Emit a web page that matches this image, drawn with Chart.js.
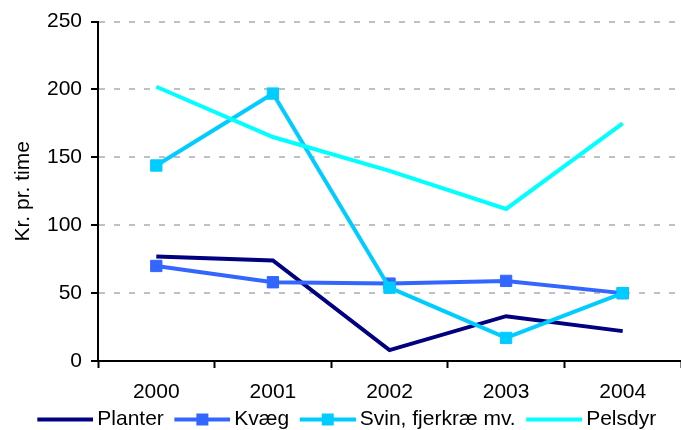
<!DOCTYPE html>
<html>
<head>
<meta charset="utf-8">
<script src="https://cdn.jsdelivr.net/npm/chart.js@4/dist/chart.umd.min.js"></script>
<style>
    html, body { margin: 0; padding: 0; background: #fff; overflow: hidden; }
    #wrap { width: 690px; height: 430px; }
</style>
</head>
<body>
<div id="wrap"><canvas id="chart" width="690" height="430"></canvas></div>
<script>
// data
const years = ["2000", "2001", "2002", "2003", "2004"];
const planter = [77, 74, 8, 33, 22];
const kvaeg = [70, 58, 57, 59, 50];
const svin = [144, 197, 54, 17, 50];
const pelsdyr = [202, 165, 140, 112, 175];
const seriesNames = ["Planter", "Kvæg", "Svin, fjerkræ mv.", "Pelsdyr"];
const seriesColors = ["#000080", "#3366ff", "#00ccff", "#00ffff"];
const seriesMarkers = [false, true, true, false];

const fontFamily = "'Liberation Sans', Arial, sans-serif";
Chart.defaults.font.family = fontFamily;
Chart.defaults.font.size = 21;
Chart.defaults.color = "#000";

// legend picture: line with optional square marker (transparent margin on the left)
function legendImage(color, marker) {
    const c = document.createElement("canvas");
    c.width = 70;
    c.height = 14;
    const ctx = c.getContext("2d");
    ctx.strokeStyle = color;
    ctx.lineWidth = 4;
    ctx.beginPath();
    ctx.moveTo(14, 7);
    ctx.lineTo(70, 7);
    ctx.stroke();
    if (marker) {
        ctx.fillStyle = color;
        ctx.fillRect(36, 1, 12, 12);
    }
    return c;
}

const allData = [planter, kvaeg, svin, pelsdyr];
const datasets = allData.map((d, i) => ({
    label: seriesNames[i],
    data: d,
    borderColor: seriesColors[i],
    backgroundColor: seriesColors[i],
    borderWidth: 4,
    tension: 0,
    pointStyle: "rect",
    pointRadius: seriesMarkers[i] ? 8 : 0,
    pointBorderWidth: 1,
    order: 4 - i,
}));

const legendImgs = seriesColors.map((c, i) => legendImage(c, seriesMarkers[i]));

new Chart(document.getElementById("chart"), {
    type: "line",
    data: { labels: years, datasets: datasets },
    options: {
        responsive: false,
        animation: false,
        layout: { padding: { top: 20, right: 4, left: 0, bottom: 0 } },
        plugins: {
            tooltip: { enabled: false },
            legend: {
                position: "bottom",
                maxHeight: 24,
                labels: {
                    color: "#000",
                    usePointStyle: true,
                    pointStyleWidth: 57,
                    padding: 3,
                    generateLabels: (chart) =>
                        chart.data.datasets.map((ds, i) => ({
                            text: ds.label,
                            pointStyle: legendImgs[i],
                            datasetIndex: i,
                            fontColor: "#000",
                            lineWidth: 0,
                            hidden: false,
                        })),
                },
            },
        },
        scales: {
            x: {
                type: "category",
                offset: true,
                grid: {
                    drawOnChartArea: false,
                    offset: true,
                    tickLength: 7,
                    tickColor: "#000",
                    tickWidth: 2,
                },
                border: { color: "#000", width: 2 },
                ticks: { color: "#000", padding: 12, maxRotation: 0 },
                afterFit: (scale) => { scale.height = 45; },
            },
            y: {
                min: 0,
                max: 250,
                ticks: { stepSize: 50, color: "#000", padding: 9 },
                grid: {
                    color: "#c0c0c0",
                    lineWidth: 2,
                    tickColor: "#000",
                    tickLength: 7,
                    tickWidth: 2,
                },
                border: { color: "#000", width: 2, dash: [6, 9] },
                title: {
                    display: true,
                    text: "Kr. pr. time",
                    color: "#000",
                    padding: { top: 11, bottom: 0 },
                },
                afterFit: (scale) => { scale.width = 98; },
            },
        },
    },
});
</script>
</body>
</html>
